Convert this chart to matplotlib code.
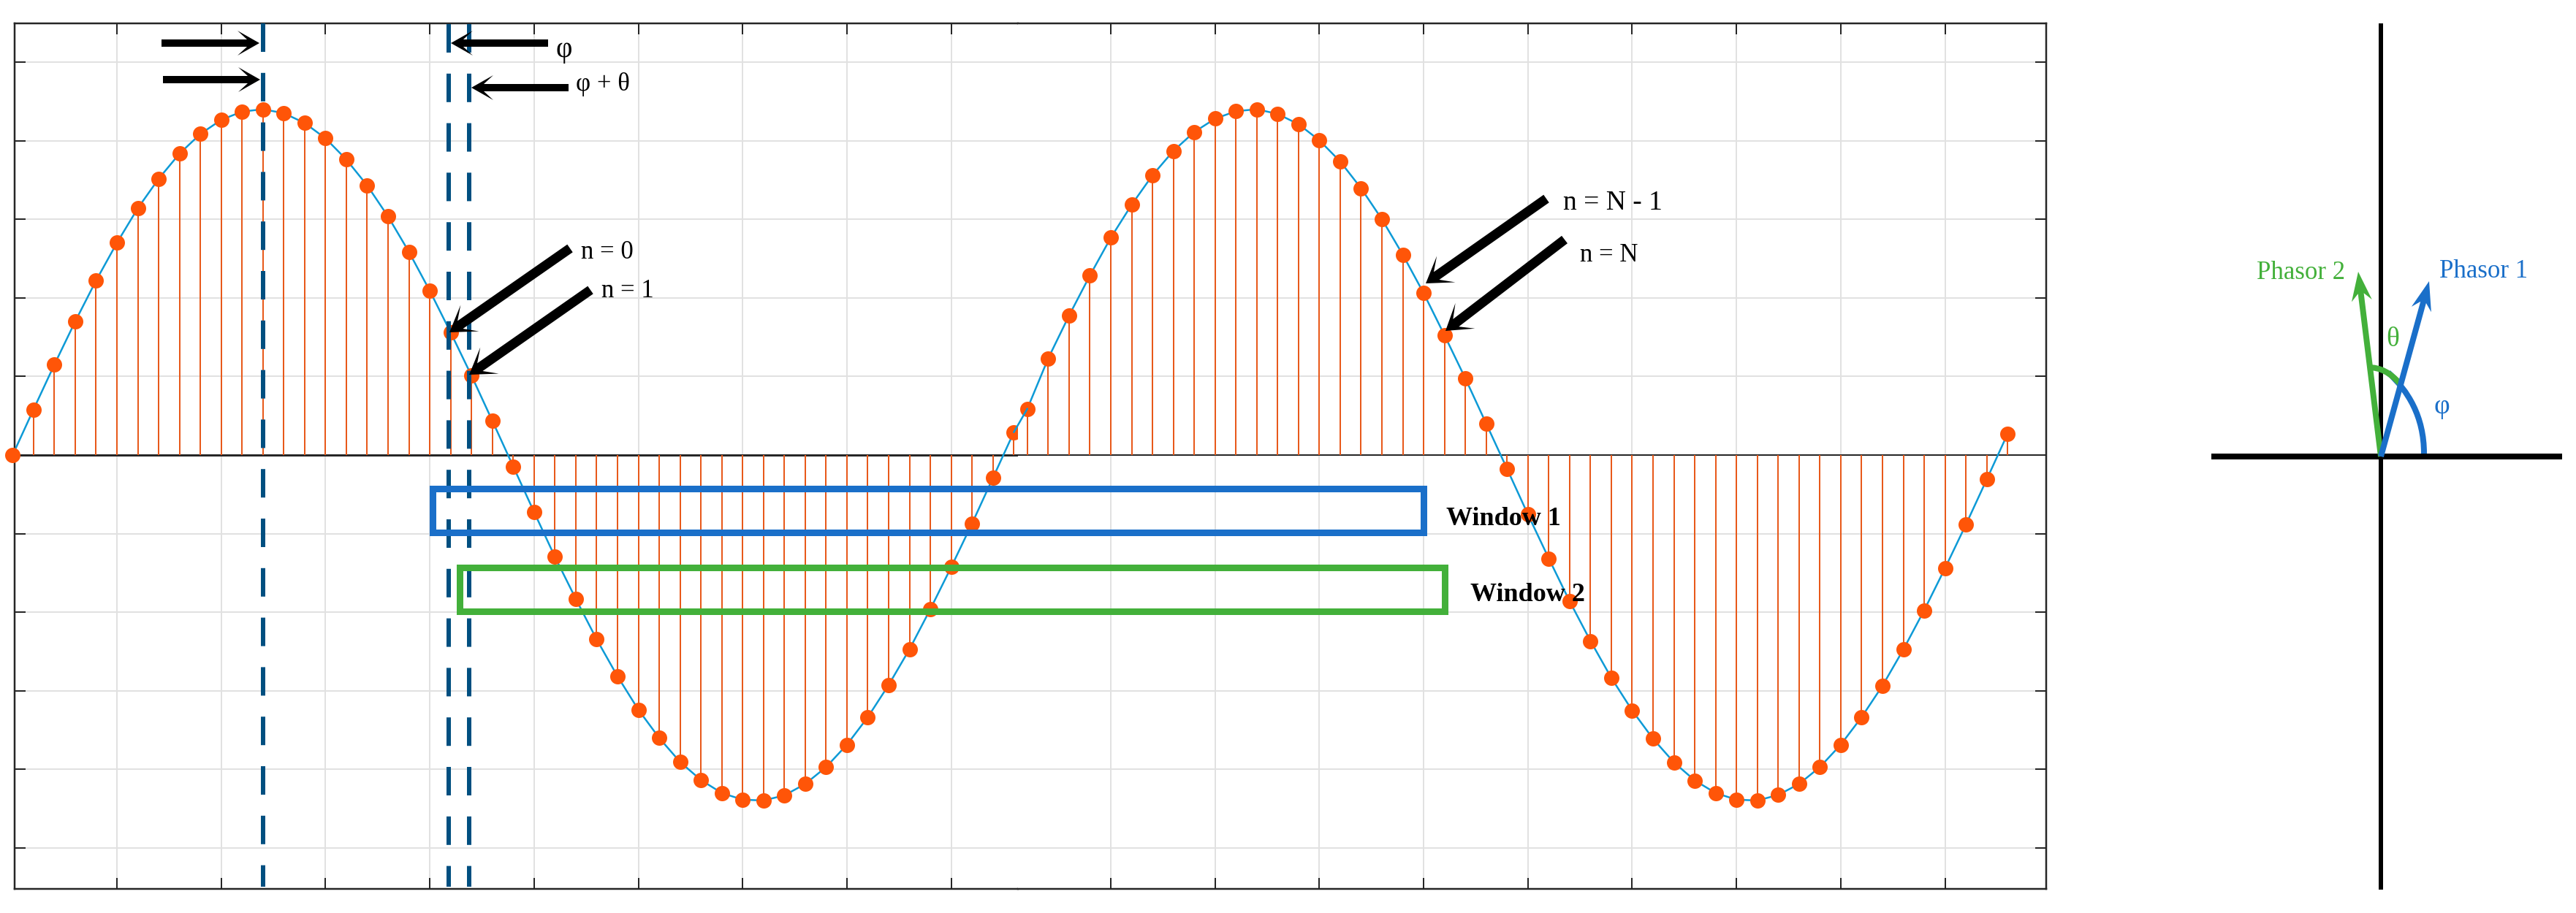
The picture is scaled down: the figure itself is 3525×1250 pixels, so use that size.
import numpy as np
import matplotlib
matplotlib.use('Agg')
import matplotlib.pyplot as plt
from matplotlib.patches import Polygon, Rectangle, PathPatch, ConnectionPatch
from matplotlib.path import Path

# samples, left half of the plot
n_left = list(range(0, 49))
y_left = [0, .116, .230, .340, .444, .540, .628, .703, .767, .817, .853, .874, .880,
          .870, .845, .806, .752, .686, .607, .517, .418, .312, .202, .087, -.029,
          -.145, -.259, -.366, -.469, -.563, -.648, -.720, -.781, -.827, -.860, -.877,
          -.879, -.866, -.837, -.794, -.737, -.667, -.585, -.494, -.392, -.285, -.174,
          -.058, .058]

# right half, this part of the figure is shifted a little
n_right = list(range(49, 97))
y_right = [.118, .246, .355, .457, .553, .637, .712, .774, .822, .856, .875, .880,
           .868, .842, .801, .747, .679, .600, .510, .412, .305, .195, .080, -.035,
           -.151, -.263, -.372, -.473, -.567, -.650, -.722, -.782, -.828, -.860, -.877,
           -.879, -.865, -.837, -.794, -.737, -.667, -.587, -.495, -.395, -.288, -.177,
           -.062, .054]

y_ticks = [-1, -.8, -.6, -.4, -.2, 0, .2, .4, .6, .8, 1]
x_ticks_left = [5, 10, 15, 20, 25, 30, 35, 40, 45]
x_ticks_right = [53, 58, 63, 68, 73, 78, 83, 88, 93]

W, H = 3525, 1250
PX = 72 / 100  # one pixel in points at dpi 100
ORANGE = '#ff5508'
STEM = '#e8591a'
LINE = '#0d9ad6'
GRID = '#e1e1e1'
DARK = '#262626'
DASH = '#004f80'
BLUE = '#1a6fc9'
GREEN = '#43b03a'
SERIF = 'Liberation Serif'

fig = plt.figure(figsize=(W / 100, H / 100), dpi=100)


def px_axes(x0, x1, y0, y1, **kw):
    return fig.add_axes([x0 / W, 1 - y1 / H, (x1 - x0) / W, (y1 - y0) / H], **kw)


def draw_half(ax, n, y, xticks, xlim, zero_lw):
    ax.set_xlim(*xlim)
    ax.set_ylim(-1.104, 1.0985)
    ax.set_xticks(xticks)
    ax.set_yticks(y_ticks)
    ax.tick_params(direction='in', length=15 * PX, width=2 * PX, color=DARK,
                   labelbottom=False, labelleft=False, labelright=False, top=True)
    ax.grid(True, color=GRID, lw=2 * PX)
    ax.set_axisbelow(True)
    for s in ax.spines.values():
        s.set_color(DARK)
        s.set_linewidth(2.5 * PX)
    ax.axhline(0, color=DARK, lw=zero_lw * PX, zorder=2)
    ax.vlines(n, 0, y, color=STEM, lw=2 * PX, zorder=2.5)
    ax.plot(n, y, color=LINE, lw=2.5 * PX, zorder=3, clip_on=False)
    ax.plot(n, y, ls='none', marker='o', ms=21 * PX, mew=0, color=ORANGE, zorder=4, clip_on=False)


ax_a = px_axes(20, 1393, 32, 1217)
draw_half(ax_a, n_left, y_left, x_ticks_left, (0.095, 48.2), 3)
ax_a.spines['right'].set_visible(False)

ax_b = px_axes(1393, 2800, 32, 1217)
draw_half(ax_b, n_right, y_right, x_ticks_right, (48.55, 97.85), 2)
ax_b.spines['left'].set_visible(False)
ax_b.yaxis.tick_right()

# join the two halves
fig.add_artist(ConnectionPatch((n_left[-1], y_left[-1]), (n_right[0], y_right[0]),
                               coordsA=ax_a.transData, coordsB=ax_b.transData,
                               color=LINE, lw=2.5 * PX, zorder=3))

# everything drawn by hand on top lives in pixel coordinates
ov = px_axes(0, W, 0, H)
ov.set_xlim(0, W)
ov.set_ylim(H, 0)
ov.axis('off')
ov.patch.set_alpha(0)


def arrow(tip, tail, shaft=10, head=17, back=30, notch=17, color='black'):
    tip = np.array(tip, float)
    tail = np.array(tail, float)
    d = (tail - tip) / np.linalg.norm(tail - tip)
    p = np.array([-d[1], d[0]])
    pts = [tip,
           tip + d * back + p * head,
           tip + d * notch + p * shaft / 2,
           tail + p * shaft / 2,
           tail - p * shaft / 2,
           tip + d * notch - p * shaft / 2,
           tip + d * back - p * head]
    ov.add_patch(Polygon(pts, closed=True, fc=color, ec='none', zorder=6))


def label(x, y, s, size=25, color='black', **kw):
    ov.text(x, y, s, family=SERIF, fontsize=size, color=color, va='baseline', zorder=8, **kw)


# dashed phase markers
for x, ystart in [(360, 32), (614, 33), (642, 33)]:
    ov.plot([x, x], [ystart, 1214], color=DASH, lw=6 * PX, ls=(0, (6.5, 4.8)),
            dash_capstyle='butt', zorder=5)

# window boxes
ov.add_patch(Rectangle((592, 669), 1948 - 592, 60, fill=False, ec=BLUE, lw=9 * PX, zorder=5.5))
ov.add_patch(Rectangle((629, 777), 1977 - 629, 60, fill=False, ec=GREEN, lw=9 * PX, zorder=5.5))

# arrows on the plot
arrow((355, 59), (221, 59))
arrow((356, 109), (223, 109))
arrow((617, 59), (750, 59))
arrow((645, 120), (778, 120))
arrow((615, 455), (780, 340), shaft=13, head=22, back=34, notch=18)
arrow((642, 513), (808, 397), shaft=13, head=22, back=34, notch=18)
arrow((1951, 388), (2116, 272), shaft=13, head=22, back=34, notch=18)
arrow((1978, 453), (2141, 328), shaft=13, head=22, back=34, notch=18)

label(760, 78, 'φ', size=28)
label(788, 124, 'φ + θ', size=25)
label(795, 354, 'n = 0')
label(823, 407, 'n = 1')
label(2139, 287, 'n = N - 1', size=27)
label(2162, 358, 'n = N')
label(1979, 719, 'Window 1', size=26, fontweight='bold')
label(2012, 823, 'Window 2', size=26, fontweight='bold')

# phasor diagram
ov.plot([3258, 3258], [32, 1218], color='black', lw=6 * PX, solid_capstyle='butt', zorder=5)
ov.plot([3026, 3506], [625, 625], color='black', lw=8 * PX, solid_capstyle='butt', zorder=5)

ov.add_patch(PathPatch(Path([(3317, 621), (3317, 570), (3295, 535), (3268, 510)],
                            [Path.MOVETO, Path.CURVE4, Path.CURVE4, Path.CURVE4]),
                       fill=False, ec=BLUE, lw=8 * PX, zorder=5.6))
ov.add_patch(PathPatch(Path([(3284, 525), (3270, 510), (3258, 503), (3240, 503)],
                            [Path.MOVETO, Path.CURVE4, Path.CURVE4, Path.CURVE4]),
                       fill=False, ec=GREEN, lw=8 * PX, zorder=5.7))
arrow((3227, 372), (3258, 625), shaft=8, head=14, back=40, notch=30, color=GREEN)
arrow((3324, 385), (3258, 625), shaft=8, head=14, back=40, notch=30, color=BLUE)

label(3088, 382, 'Phasor 2', size=25, color=GREEN)
label(3338, 380, 'Phasor 1', size=25, color=BLUE)
label(3265, 474, 'θ', size=27, color=GREEN)
label(3330, 566, 'φ', size=27, color=BLUE)

fig.savefig('out.png', dpi=100)
